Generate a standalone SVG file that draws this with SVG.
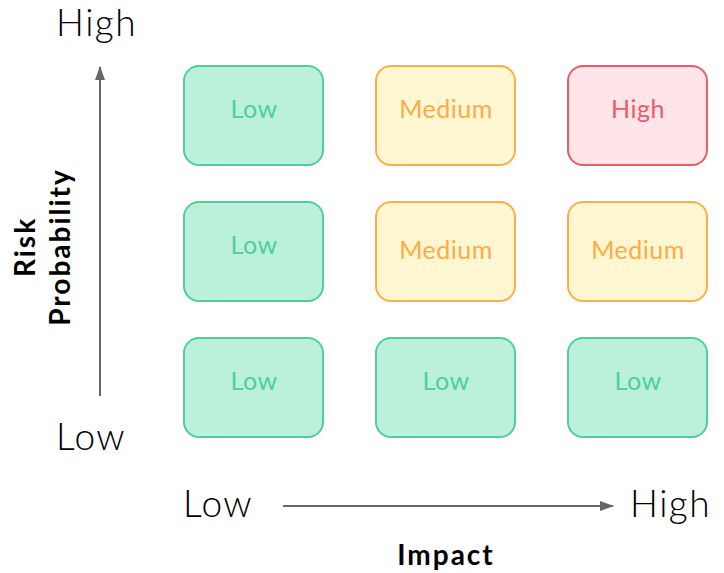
<svg xmlns="http://www.w3.org/2000/svg" width="724" height="573" viewBox="0 0 724 573">
<defs>
<style>
.box{stroke-width:2}
.low rect{fill:#bbf0da;stroke:#4ecf9b}
.low text{fill:#4ecf9b}
.med rect{fill:#fff6d2;stroke:#ffae45}
.med text{fill:#ffab45}
.high rect{fill:#ffe5ea;stroke:#ee5b66}
.high text{fill:#ec5b66}
.cell{font-family:Lato,"Liberation Sans",sans-serif;font-size:25px;text-anchor:middle;letter-spacing:0.5px}
.axis{font-family:Lato,"Liberation Sans",sans-serif;font-weight:300;font-size:37px;fill:#000;letter-spacing:1.5px}
.title{font-family:Lato,"Liberation Sans",sans-serif;font-weight:700;font-size:28px;fill:#000;text-anchor:middle;letter-spacing:2px}
.conn{stroke:#666;stroke-width:2;fill:none}
</style>
<marker id="ah" markerWidth="14" markerHeight="10" refX="13" refY="5" orient="auto" markerUnits="userSpaceOnUse">
<path d="M0,0 L14,5 L0,10 Z" fill="#666"/>
</marker>
</defs>
<rect width="724" height="573" fill="#fff"/>
<g id="cell-r1c1" class="low cell"><rect class="box" x="184" y="66" width="139" height="99" rx="15"/><text x="254" y="118">Low</text></g>
<g id="cell-r1c2" class="med cell"><rect class="box" x="376" y="66" width="139" height="99" rx="15"/><text x="446" y="118">Medium</text></g>
<g id="cell-r1c3" class="high cell"><rect class="box" x="568" y="66" width="139" height="99" rx="15"/><text x="638" y="118">High</text></g>
<g id="cell-r2c1" class="low cell"><rect class="box" x="184" y="202" width="139" height="99" rx="15"/><text x="254" y="254">Low</text></g>
<g id="cell-r2c2" class="med cell"><rect class="box" x="376" y="202" width="139" height="99" rx="15"/><text x="446" y="259">Medium</text></g>
<g id="cell-r2c3" class="med cell"><rect class="box" x="568" y="202" width="139" height="99" rx="15"/><text x="638" y="259">Medium</text></g>
<g id="cell-r3c1" class="low cell"><rect class="box" x="184" y="338" width="139" height="99" rx="15"/><text x="254" y="390">Low</text></g>
<g id="cell-r3c2" class="low cell"><rect class="box" x="376" y="338" width="139" height="99" rx="15"/><text x="446" y="390">Low</text></g>
<g id="cell-r3c3" class="low cell"><rect class="box" x="568" y="338" width="139" height="99" rx="15"/><text x="638" y="390">Low</text></g>
<g id="connectors">
<line class="conn" x1="100" y1="396" x2="100" y2="67" marker-end="url(#ah)"/>
<line class="conn" x1="283" y1="506" x2="613" y2="506" marker-end="url(#ah)"/>
</g>
<g id="labels">
<text class="axis" x="56" y="36">High</text>
<text class="axis" x="56" y="450">Low</text>
<text class="axis" x="183" y="517">Low</text>
<text class="axis" x="630" y="517">High</text>
<text class="title" x="446" y="565">Impact</text>
<text class="title" transform="translate(35,247) rotate(-90)" x="0" y="0">Risk</text>
<text class="title" transform="translate(70,247) rotate(-90)" x="0" y="0">Probability</text>
</g>
</svg>
